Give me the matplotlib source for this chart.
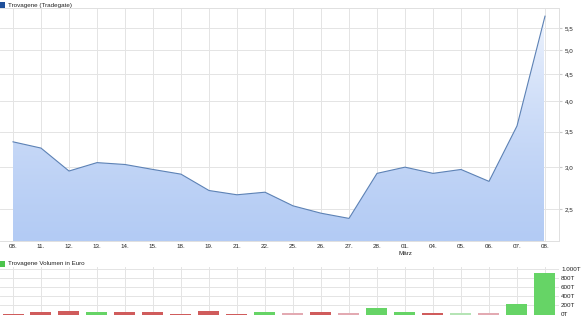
import numpy as np
import matplotlib
matplotlib.use("Agg")
import matplotlib.pyplot as plt
from matplotlib.ticker import FixedLocator, NullLocator
from matplotlib.patches import Polygon, Rectangle
from matplotlib.colors import LinearSegmentedColormap

dates = ["08.", "11.", "12.", "13.", "14.", "15.", "18.", "19.", "21.", "22.",
         "25.", "26.", "27.", "28.", "01.", "04.", "05.", "06.", "07.", "08."]
prices = [3.35, 3.26, 2.95, 3.06, 3.035, 2.97, 2.91, 2.71, 2.66, 2.69,
          2.535, 2.455, 2.40, 2.92, 3.00, 2.92, 2.97, 2.82, 3.59, 5.79]
volumes = [10, 45, 70, 45, 45, 60, 10, 85, 10, 45,
           40, 60, 40, 140, 60, 40, 40, 40, 237, 919]  # in thousand euro
pale = [False] * 10 + [True, False, True, False, False, False, True, True, False, False]
price_ticks = [2.5, 3.0, 3.5, 4.0, 4.5, 5.0, 5.5]
vol_ticks = [0, 200, 400, 600, 800, 1000]
vol_labels = ["0T", "200T", "400T", "600T", "800T", "1.000T"]

plt.rcParams["font.family"] = ["Liberation Sans", "DejaVu Sans"]

W, H = 582, 319
fig = plt.figure(figsize=(W / 100, H / 100), dpi=100)

def box(l, t, r, b):
    return [l / W, 1 - b / H, (r - l) / W, (b - t) / H]

grid_c = "#e4e4e4"
text_c = "#222222"
fs = 4.5

x = np.arange(len(dates))

# ---- price panel
ax = fig.add_axes(box(0, 8, 559, 241))
ax.set_yscale("log")
ax.set_xlim(-13 / 28, len(dates) - 1 + 14 / 28)
ymin, ymax = 2.175, 6.0
ax.set_ylim(ymin, ymax)

grad = np.linspace(0, 1, 256).reshape(-1, 1)
cmap = LinearSegmentedColormap.from_list("g", ["#b3cbf4", "#f2f6fe"])
im = ax.imshow(grad, extent=[x[0], x[-1], ymin, ymax], origin="lower",
               cmap=cmap, aspect="auto", zorder=1)
verts = [(x[0], ymin)] + list(zip(x, prices)) + [(x[-1], ymin)]
poly = Polygon(verts, closed=True, facecolor="none", edgecolor="none")
ax.add_patch(poly)
im.set_clip_path(poly)
ax.plot(x, prices, color="#5d82b5", lw=0.8, zorder=3)

ax.set_xticks(x)
ax.set_xticklabels(dates)
ax.yaxis.set_major_locator(FixedLocator(price_ticks))
ax.yaxis.set_minor_locator(NullLocator())
ax.set_yticklabels([f"{v:.1f}".replace(".", ",") for v in price_ticks])
ax.yaxis.tick_right()
ax.tick_params(axis="y", length=2, color="#cccccc", labelsize=fs, labelcolor=text_c, pad=2)
ax.tick_params(axis="x", length=0, labelsize=fs, labelcolor=text_c, pad=2.5)
ax.grid(True, color=grid_c, lw=0.7, zorder=0)
ax.set_axisbelow(True)
for s in ax.spines.values():
    s.set_color("#e0e0e0")
    s.set_linewidth(0.7)
ax.spines["left"].set_visible(False)
ax.text(x[14], -0.043, "März", transform=ax.get_xaxis_transform(), ha="center",
        va="top", fontsize=fs, color=text_c)

fig.patches.append(Rectangle((0, 1 - 8 / H), 5 / W, 6 / H,
                   transform=fig.transFigure, facecolor="#1f4f9a", edgecolor="none"))
fig.text(8 / W, 1 - 5 / H, "Trovagene (Tradegate)", fontsize=fs, color=text_c, va="center")

# ---- volume panel
ax2 = fig.add_axes(box(0, 267, 559, 314.5))
ax2.set_xlim(ax.get_xlim())
ax2.set_ylim(0, 1000 * (314.5 - 267) / (314.5 - 269))
colors = []
for i, (p, pl) in enumerate(zip(prices, pale)):
    up = i > 0 and p > prices[i - 1]
    if up:
        colors.append("#b5e4b5" if pl else "#66d466")
    else:
        colors.append("#e3aab2" if pl else "#d05c5c")
ax2.bar(x, volumes, width=0.75, color=colors, zorder=2)
ax2.set_xticks(x)
ax2.set_xticklabels([])
ax2.yaxis.set_major_locator(FixedLocator(vol_ticks))
ax2.set_yticklabels(vol_labels)
ax2.yaxis.tick_right()
ax2.tick_params(axis="y", length=0, labelsize=fs, labelcolor=text_c, pad=1.5)
ax2.tick_params(axis="x", length=0)
ax2.grid(True, color=grid_c, lw=0.7, zorder=0)
ax2.set_axisbelow(True)
for s in ax2.spines.values():
    s.set_visible(False)

fig.patches.append(Rectangle((0, 1 - 267 / H), 5 / W, 6 / H,
                   transform=fig.transFigure, facecolor="#4cc44c", edgecolor="none"))
fig.text(8 / W, 1 - 264 / H, "Trovagene Volumen in Euro", fontsize=fs, color=text_c, va="center")

fig.savefig("out.png", dpi=100)
